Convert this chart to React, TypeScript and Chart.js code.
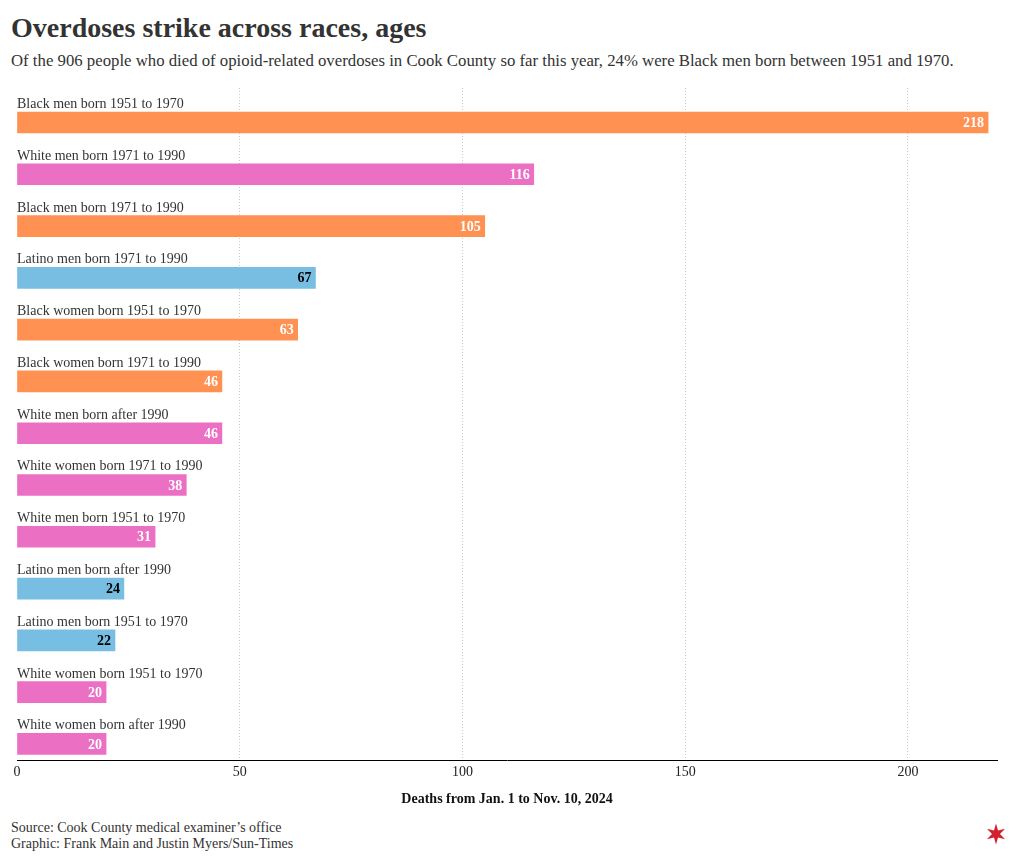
import React, { useEffect, useRef } from "react";
import { Chart, registerables } from "chart.js";

Chart.register(...registerables);

const categories = [
  "Black men born 1951 to 1970",
  "White men born 1971 to 1990",
  "Black men born 1971 to 1990",
  "Latino men born 1971 to 1990",
  "Black women born 1951 to 1970",
  "Black women born 1971 to 1990",
  "White men born after 1990",
  "White women born 1971 to 1990",
  "White men born 1951 to 1970",
  "Latino men born after 1990",
  "Latino men born 1951 to 1970",
  "White women born 1951 to 1970",
  "White women born after 1990",
];
const values = [218, 116, 105, 67, 63, 46, 46, 38, 31, 24, 22, 20, 20];
const groups = [
  "Black", "White", "Black", "Latino", "Black", "Black", "White",
  "White", "White", "Latino", "Latino", "White", "White",
];
const xTicks = [0, 50, 100, 150, 200];

const groupColor: Record<string, string> = {
  Black: "#FF9152",
  White: "#EB70C4",
  Latino: "#78BEE2",
};
const groupLabelColor: Record<string, string> = {
  Black: "#ffffff",
  White: "#ffffff",
  Latino: "#000000",
};

const FONT = '"Liberation Serif", "Times New Roman", Times, serif';

export default function App() {
  const ref = useRef<HTMLCanvasElement | null>(null);

  useEffect(() => {
    document.body.style.margin = "0";
    const canvas = ref.current;
    if (!canvas) return;
    Chart.defaults.font.family = FONT;

    const labelPlugin = {
      id: "barLabels",
      afterDatasetsDraw(chart: any) {
        const ctx = chart.ctx;
        const meta = chart.getDatasetMeta(0);
        const area = chart.chartArea;
        ctx.save();
        meta.data.forEach((bar: any, i: number) => {
          const top = bar.y - bar.height / 2;
          ctx.font = `14px ${FONT}`;
          ctx.fillStyle = "#333333";
          ctx.textAlign = "left";
          ctx.textBaseline = "alphabetic";
          ctx.fillText(categories[i], area.left, top - 4);
          ctx.font = `bold 14px ${FONT}`;
          ctx.fillStyle = groupLabelColor[groups[i]];
          ctx.textAlign = "right";
          ctx.textBaseline = "middle";
          ctx.fillText(String(values[i]), bar.x - 4, bar.y + 1);
        });
        ctx.restore();
      },
    };

    const chart = new Chart(canvas, {
      type: "bar",
      data: {
        datasets: [
          {
            data: values.map((v, i) => ({ x: v, y: i })),
            backgroundColor: groups.map((g) => groupColor[g]),
            barThickness: 21,
            borderWidth: 0,
          },
        ],
      },
      options: {
        indexAxis: "y",
        responsive: false,
        animation: false,
        layout: { padding: { left: 17, right: 23, top: 8, bottom: 12 } },
        plugins: { legend: { display: false }, tooltip: { enabled: false } },
        scales: {
          y: {
            type: "linear",
            display: false,
            reverse: true,
            offset: false,
            bounds: "data",
            grace: 0,
            grid: { offset: false },
            min: -0.666,
            max: 12.318,
          },
          x: {
            type: "linear",
            min: 0,
            max: 220,
            afterBuildTicks: (scale: any) => {
              scale.ticks = xTicks.map((v) => ({ value: v }));
            },
            grid: {
              drawTicks: false,
              color: (c: any) => (c.tick && c.tick.value === 0 ? "rgba(0,0,0,0)" : "#c8c8c8"),
              lineWidth: 1,
            },
            border: { display: true, color: "#000000", width: 1, dash: [1, 2] },
            ticks: {
              padding: 4,
              color: "#222222",
              font: { size: 14, family: FONT },
            },
            title: {
              display: true,
              text: "Deaths from Jan. 1 to Nov. 10, 2024",
              color: "#111111",
              font: { size: 14, weight: "bold", family: FONT },
              padding: { top: 6, bottom: 0 },
            },
          },
        },
      },
      plugins: [labelPlugin],
    } as any);

    return () => chart.destroy();
  }, []);

  return (
    <div style={{ position: "relative", width: 1020, height: 862, fontFamily: FONT, color: "#333" }}>
      <div
        style={{
          position: "absolute",
          left: 11,
          top: 14,
          fontSize: 28,
          lineHeight: "28px",
          fontWeight: "bold",
          whiteSpace: "nowrap",
          color: "#333",
        }}
      >
        Overdoses strike across races, ages
      </div>
      <div
        style={{
          position: "absolute",
          left: 11,
          top: 52,
          fontSize: 16.75,
          lineHeight: "17px",
          whiteSpace: "nowrap",
          color: "#333",
        }}
      >
        Of the 906 people who died of opioid-related overdoses in Cook County so far this year, 24% were Black men born between 1951 and 1970.
      </div>
      <canvas
        ref={ref}
        width={1020}
        height={740}
        style={{ position: "absolute", left: 0, top: 80, width: 1020, height: 740 }}
      />
      <div
        style={{
          position: "absolute",
          left: 11,
          top: 820,
          fontSize: 14,
          lineHeight: "16px",
          color: "#333",
          whiteSpace: "nowrap",
        }}
      >
        <div>Source: Cook County medical examiner’s office</div>
        <div>Graphic: Frank Main and Justin Myers/Sun-Times</div>
      </div>
      <svg
        width={24}
        height={24}
        viewBox="-12 -12 24 24"
        style={{ position: "absolute", left: 984, top: 822 }}
      >
        <polygon
          fill="#D2202E"
          points={Array.from({ length: 12 }, (_, k) => {
            const r = k % 2 === 0 ? 10.5 : 4;
            const a = (Math.PI / 6) * k - Math.PI / 2;
            return `${(r * Math.cos(a)).toFixed(2)},${(r * Math.sin(a)).toFixed(2)}`;
          }).join(" ")}
        />
      </svg>
    </div>
  );
}
